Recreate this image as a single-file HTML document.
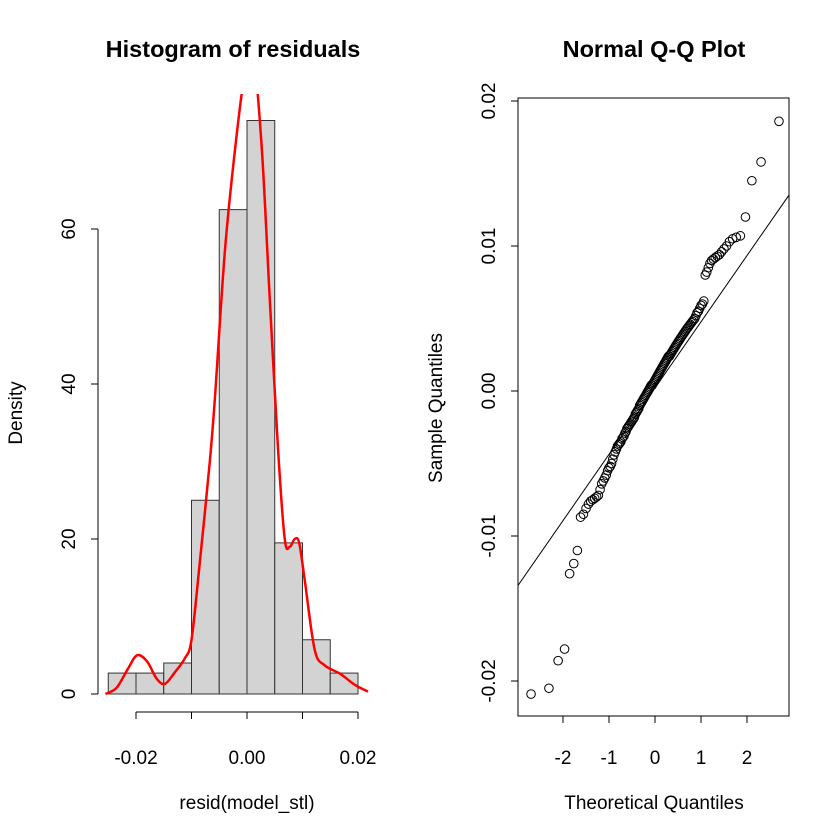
<!DOCTYPE html>
<html><head><meta charset="utf-8"><style>
html,body{margin:0;padding:0;background:#fff;}
svg{display:block;font-family:"Liberation Sans",sans-serif;}
</style></head><body>
<svg id="c" width="840" height="840" viewBox="0 0 840 840">
<rect width="840" height="840" fill="#fff"/>
<g id="hist"></g>
<g id="qq"></g>
</svg>
<script>
// Histogram data
const binEdges = [-0.025,-0.02,-0.015,-0.01,-0.005,0,0.005,0.01,0.015,0.02];
const binDensity = [2.7,2.7,4.0,25,62.5,74,19.5,7,2.7];
const densX = [-0.0255,-0.0235,-0.0215,-0.0198,-0.018,-0.0163,-0.0148,-0.013,-0.0112,-0.0100,-0.0085,-0.0067,-0.0058,-0.0040,-0.0022,-0.0004,0.0012,0.0027,0.0041,0.0056,0.0068,0.0077,0.0086,0.0094,0.0104,0.0122,0.0140,0.0168,0.0194,0.0218];
const densY = [0,0.8,3.2,5.0,4.2,2.0,1.3,2.8,4.6,7,17,30,38,57,70,80,82,70,51,31.5,20,19,20,19.5,14.7,5.7,3.7,2.6,1.2,0.3];
const histXTicks = [-0.02,-0.01,0,0.01,0.02];
const histXLabels = ["-0.02","","0.00","","0.02"];
const histYTicks = [0,20,40,60];
// QQ data (sorted sample residuals)
const sampleQ = [-0.0209,-0.0205,-0.0186,-0.0178,-0.0126,-0.0119,-0.0110,
-0.0087,-0.0085,-0.0081,-0.0078,-0.0076,-0.0075,-0.0074,-0.0073,-0.0072,-0.0068,-0.0064,-0.0062,-0.0060,
-0.0058,-0.0055,-0.0053,-0.0052,-0.0050,-0.0047,-0.0044,-0.0042,-0.0040,-0.0038,-0.0037,-0.0036,-0.0035,-0.0033,-0.0032,-0.0031,-0.0029,-0.0028,-0.0026,-0.0025,
-0.0024,-0.0023,-0.0022,-0.0021,-0.0020,-0.0019,-0.0018,-0.0016,-0.0015,-0.0014,-0.0013,-0.0012,-0.0010,-0.0009,-0.0008,-0.0007,-0.0006,-0.0005,-0.0004,-0.0003,
-0.0002,-0.0001,0.0000,0.0001,0.0002,0.0003,0.0004,0.0004,0.0005,0.0006,0.0007,0.0008,0.0009,0.0010,0.0011,0.0012,0.0013,0.0014,0.0015,0.0016,
0.0017,0.0018,0.0019,0.0020,0.0021,0.0022,0.0023,0.0024,0.0024,0.0025,0.0026,0.0027,0.0028,0.0029,0.0030,0.0031,0.0032,0.0033,0.0034,0.0035,
0.0036,0.0037,0.0038,0.0039,0.0040,0.0041,0.0042,0.0043,0.0044,0.0045,0.0046,0.0047,0.0048,0.0049,0.0050,0.0052,0.0054,0.0055,0.0057,0.0059,
0.0060,0.0062,0.0080,0.0082,0.0085,0.0088,0.0090,0.0091,0.0092,0.0093,
0.0094,0.0096,0.0098,0.0100,0.0103,0.0105,
0.0106,0.0107,0.0120,0.0145,0.0158,0.0186];
const qqXTicks = [-2,-1,0,1,2];
const qqYTicks = [0.02,0.01,0,-0.01,-0.02];
const qqYLabels = ["0.02","0.01","0.00","-0.01","-0.02"];
const qqLine = [0.0002, 0.00457]; // intercept, slope

const NS="http://www.w3.org/2000/svg";
function mk(parent,tag,attrs){const e=document.createElementNS(NS,tag);for(const k in attrs)e.setAttribute(k,attrs[k]);parent.appendChild(e);return e;}
function txt(parent,x,y,s,attrs){const e=mk(parent,'text',Object.assign({x:x,y:y,'text-anchor':'middle','font-size':19,fill:'#000'},attrs||{}));e.textContent=s;return e;}

// ---- Histogram ----
const H=document.getElementById('hist');
const hx=v=>247+v*5550, hy=v=>694-v*7.75;
let t;
t=txt(H,233,57,"Histogram of residuals",{'font-size':23.5,'font-weight':'bold'});


binDensity.forEach((d,i)=>{
 const r=mk(H,'rect',{x:hx(binEdges[i]),y:hy(d),width:hx(binEdges[i+1])-hx(binEdges[i]),height:hy(0)-hy(d),fill:'#d3d3d3',stroke:'#333','stroke-width':1});
 
 
});
const clip=mk(H,'clipPath',{id:'hc'});mk(clip,'rect',{x:0,y:94,width:420,height:700});
let dp=densX.map((x,i)=>[hx(x),hy(densY[i])]);
let d='M'+dp[0][0]+','+dp[0][1];
for(let i=0;i<dp.length-1;i++){const p0=dp[Math.max(0,i-1)],p1=dp[i],p2=dp[i+1],p3=dp[Math.min(dp.length-1,i+2)];
 d+=' C'+(p1[0]+(p2[0]-p0[0])/6)+','+(p1[1]+(p2[1]-p0[1])/6)+' '+(p2[0]-(p3[0]-p1[0])/6)+','+(p2[1]-(p3[1]-p1[1])/6)+' '+p2[0]+','+p2[1];}
const dc=mk(H,'path',{d:d,fill:'none',stroke:'#ff0000','stroke-width':2.5,'clip-path':'url(#hc)'});


const hxa=mk(H,'g',{});


mk(hxa,'line',{x1:hx(histXTicks[0]),x2:hx(histXTicks[histXTicks.length-1]),y1:712,y2:712,stroke:'#000'});
histXTicks.forEach((v,i)=>{mk(hxa,'line',{x1:hx(v),x2:hx(v),y1:712,y2:719,stroke:'#000'});if(histXLabels[i])txt(hxa,hx(v),764,histXLabels[i]);});
const hya=mk(H,'g',{});


mk(hya,'line',{x1:98,x2:98,y1:hy(histYTicks[0]),y2:hy(histYTicks[histYTicks.length-1]),stroke:'#000'});
histYTicks.forEach(v=>{mk(hya,'line',{x1:91,x2:98,y1:hy(v),y2:hy(v),stroke:'#000'});txt(hya,75,hy(v),String(v),{transform:'rotate(-90 75 '+hy(v)+')'});});
t=txt(H,247,809,"resid(model_stl)");


t=txt(H,22,413,"Density",{transform:'rotate(-90 22 413)'});



// ---- QQ ----
const Q=document.getElementById('qq');
const qx=v=>655+v*46, qy=v=>391-v*14500;
t=txt(Q,654,57,"Normal Q-Q Plot",{'font-size':23.5,'font-weight':'bold'});


const box=mk(Q,'rect',{x:518,y:98,width:271,height:618,fill:'none',stroke:'#000'});


function qnorm(p){// Acklam approximation
 const a=[-39.69683028665376,220.9460984245205,-275.9285104469687,138.3577518672690,-30.66479806614716,2.506628277459239],
 b=[-54.47609879822406,161.5858368580409,-155.6989798598866,66.80131188771972,-13.28068155288572],
 c=[-0.007784894002430293,-0.3223964580411365,-2.400758277161838,-2.549732539343734,4.374664141464968,2.938163982698783],
 dd=[0.007784695709041462,0.3224671290700398,2.445134137142996,3.754408661907416];
 let q,r;
 if(p<0.02425){q=Math.sqrt(-2*Math.log(p));return (((((c[0]*q+c[1])*q+c[2])*q+c[3])*q+c[4])*q+c[5])/((((dd[0]*q+dd[1])*q+dd[2])*q+dd[3])*q+1);}
 if(p>1-0.02425){q=Math.sqrt(-2*Math.log(1-p));return -(((((c[0]*q+c[1])*q+c[2])*q+c[3])*q+c[4])*q+c[5])/((((dd[0]*q+dd[1])*q+dd[2])*q+dd[3])*q+1);}
 q=p-0.5;r=q*q;return (((((a[0]*r+a[1])*r+a[2])*r+a[3])*r+a[4])*r+a[5])*q/(((((b[0]*r+b[1])*r+b[2])*r+b[3])*r+b[4])*r+1);}
const qc=mk(Q,'clipPath',{id:'qc'});mk(qc,'rect',{x:518,y:98,width:271,height:618});
const x0=(518-655)/46,x1=(789-655)/46;
const ql=mk(Q,'line',{x1:qx(x0),y1:qy(qqLine[0]+qqLine[1]*x0),x2:qx(x1),y2:qy(qqLine[0]+qqLine[1]*x1),stroke:'#000','clip-path':'url(#qc)'});


const n=sampleQ.length;
sampleQ.forEach((v,i)=>{
 const th=qnorm((i+0.5)/n);
 const c=mk(Q,'circle',{cx:qx(th),cy:qy(v),r:4.3,fill:'none',stroke:'#000','stroke-width':1});
 
 
});
const qxa=mk(Q,'g',{});


mk(qxa,'line',{x1:qx(qqXTicks[0]),x2:qx(qqXTicks[qqXTicks.length-1]),y1:716,y2:716,stroke:'#000'});
qqXTicks.forEach(v=>{mk(qxa,'line',{x1:qx(v),x2:qx(v),y1:716,y2:723,stroke:'#000'});txt(qxa,qx(v),764,String(v));});
const qya=mk(Q,'g',{});


mk(qya,'line',{x1:518,x2:518,y1:qy(qqYTicks[0]),y2:qy(qqYTicks[qqYTicks.length-1]),stroke:'#000'});
qqYTicks.forEach((v,i)=>{mk(qya,'line',{x1:511,x2:518,y1:qy(v),y2:qy(v),stroke:'#000'});txt(qya,495,qy(v),qqYLabels[i],{transform:'rotate(-90 495 '+qy(v)+')'});});
t=txt(Q,654,809,"Theoretical Quantiles");


t=txt(Q,442,408,"Sample Quantiles",{transform:'rotate(-90 442 408)'});


</script>
</body></html>
